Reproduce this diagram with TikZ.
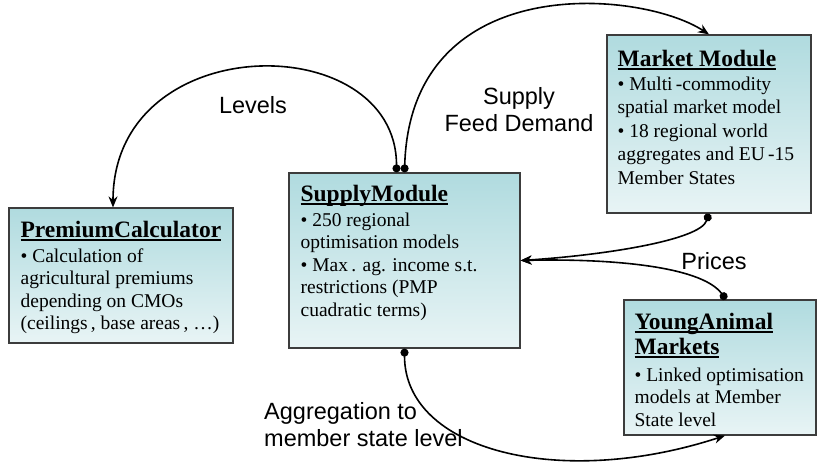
\documentclass[tikz,border=0pt]{standalone}
\usepackage{fontspec}
\usetikzlibrary{arrows.meta}
\newfontfamily\boxfont{Liberation Serif}
\newfontfamily\labfont{Liberation Sans}
\newcommand\modtitle[1]{{\fontsize{23.5}{24}\selectfont\bfseries\setbox0\hbox{#1}\rlap{\rule[-3pt]{\wd0}{1.6pt}}\box0}}
\definecolor{boxtop}{RGB}{176,219,223}
\definecolor{boxbot}{RGB}{232,244,245}
\definecolor{boxline}{RGB}{60,60,60}
\tikzset{
  module/.style={draw=boxline, line width=1.2pt, top color=boxtop, bottom color=boxbot, inner sep=0pt},
  modtext/.style={anchor=north west, align=left, inner sep=0pt, font=\boxfont\fontsize{19.5}{22.5}\selectfont},
  flowlabel/.style={font=\labfont\fontsize{23.5}{27}\selectfont, align=center, inner sep=0pt},
  flow/.style={line width=1.6pt, {Circle[length=8pt]}-{Stealth[length=11pt,width=9pt]}}
}
\begin{document}
\begin{tikzpicture}[x=1pt,y=-1pt]
\useasboundingbox (0,0) rectangle (817,463);
\node[module, minimum width=224pt, minimum height=135pt] (premium) at (121,275.5) {};
\node[module, minimum width=231pt, minimum height=175pt] (supply) at (404.5,260.5) {};
\node[module, minimum width=204pt, minimum height=178pt] (market) at (709,124) {};
\node[module, minimum width=192pt, minimum height=135pt] (young) at (720,367.5) {};
\node[modtext] (premium-t) at ([shift={(12,14)}]premium.north west)
  {\modtitle{PremiumCalculator}\\[2pt] • Calculation of\\ agricultural premiums\\ depending on CMOs\\ (ceilings\,, base areas\,, …)};
\node[modtext] (supply-t) at ([shift={(12,13)}]supply.north west)
  {\modtitle{SupplyModule}\\[2pt] • 250 regional\\ optimisation models\\ • Max\,. ag. income s.t.\\ restrictions (PMP\\ cuadratic terms)};
\node[modtext, font=\boxfont\fontsize{19.5}{23.5}\selectfont] (market-t) at ([shift={(11,16)}]market.north west)
  {\modtitle{Market Module}\\ • Multi\,-commodity\\ spatial market model\\ • 18 regional world\\ aggregates and EU\,-15\\ Member States};
\node[modtext] (young-t) at ([shift={(11,14)}]young.north west)
  {\modtitle{YoungAnimal}\\[2.5pt] \modtitle{Markets}\\[4pt] • Linked optimisation\\ models at Member\\ State level};
\draw[flow] ([xshift=-8pt]supply.north) .. controls +(0,-145) and +(0,-180) .. ([xshift=-8pt]premium.north);
\draw[flow] (supply.north) .. controls +(6,-203) and +(-69,-45) .. (market.north);
\draw[flow] ([xshift=6pt]young.north) .. controls +(-26,-35) and +(80,-2) .. (supply.east);
\draw[flow] (market.south) .. controls +(-9,27) and +(80,-5) .. (supply.east);
\draw[flow] (supply.south) .. controls +(0,102) and +(-165,54) .. ([xshift=5pt]young.south);
\node[flowlabel] (levels) at (253,105) {Levels};
\node[flowlabel] (feed) at (519,110) {Supply\\Feed Demand};
\node[flowlabel] (prices) at (714,261) {Prices};
\node[flowlabel, align=left, anchor=west] (aggr) at (264,425) {Aggregation to\\member state level};
\end{tikzpicture}
\end{document}
